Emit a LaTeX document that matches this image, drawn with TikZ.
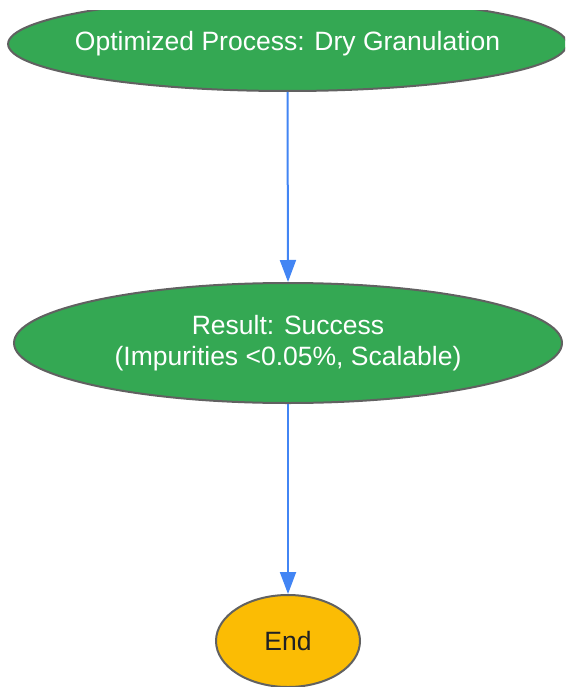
\documentclass[tikz,border=0pt]{standalone}
\usepackage{fontspec}
\setmainfont{Liberation Sans}
\usetikzlibrary{shapes.geometric,arrows.meta}
\definecolor{gfill}{HTML}{34A853}
\definecolor{yfill}{HTML}{FBBC04}
\definecolor{edge}{HTML}{616161}
\definecolor{arr}{HTML}{4285F4}
\definecolor{dark}{HTML}{202124}
\tikzset{
  ell/.style={ellipse, draw=edge, line width=2pt, inner sep=0pt, align=center,
    font=\fontsize{26.5}{31}\selectfont},
  greenell/.style={ell, fill=gfill, text=white},
  endell/.style={ell, fill=yfill, text=dark},
  conn/.style={draw=arr, line width=2pt, -{Triangle[width=16pt,length=22pt]}}
}
\begin{document}
\begin{tikzpicture}[x=1pt,y=-1pt]
\useasboundingbox (0,0) rectangle (565,687);
\begin{scope}
\clip (0,11) rectangle (565,687);
\node[greenell, inner xsep=-15pt, minimum width=557pt, minimum height=94pt] (opt) at (287.5,44) {Optimized Process: Dry Granulation};
\end{scope}
\node[greenell, minimum width=548pt, minimum height=120pt] (res) at (288,343) {Result: Success\\(Impurities <0.05\%, Scalable)};
\node[endell, minimum width=144pt, minimum height=92pt] (end) at (288,641) {End};
\draw[conn] (opt.south) -- (res.north);
\draw[conn] (res.south) -- (end.north);
\end{tikzpicture}
\end{document}
